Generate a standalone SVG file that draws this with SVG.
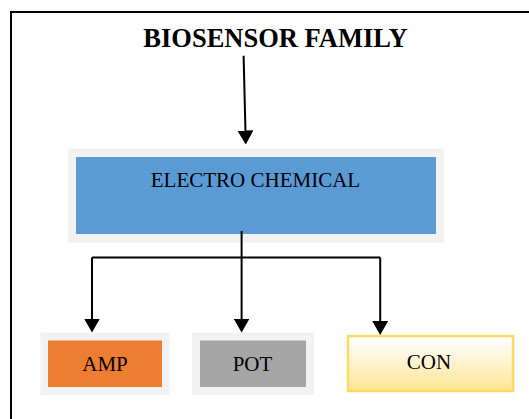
<svg xmlns="http://www.w3.org/2000/svg" width="529" height="419" viewBox="0 0 529 419">
<defs>
<style>
.t{font-family:"Liberation Serif","Times New Roman",serif;fill:#000;text-anchor:middle}
.lbl{font-size:21px}
.ttl{font-size:26.5px;font-weight:bold}
.ln{stroke:#000;stroke-width:2;fill:none}
.pad{fill:#f2f2f2}
</style>
<marker id="ah" markerUnits="userSpaceOnUse" markerWidth="14" markerHeight="16" refX="12" refY="8" orient="auto" viewBox="0 0 14 16">
<path d="M0,0 L14,8 L0,16 Z" fill="#000"/>
</marker>
<linearGradient id="g" x1="0" y1="0" x2="0" y2="1">
<stop offset="0" stop-color="#ffffff"/>
<stop offset="0.3" stop-color="#fff8e6"/>
<stop offset="1" stop-color="#ffe491"/>
</linearGradient>
</defs>
<rect width="529" height="419" fill="#fff"/>
<path d="M11,419 V12 H529" class="ln"/>
<g id="title">
<text class="t ttl" x="275.5" y="46.5">BIOSENSOR FAMILY</text>
</g>
<g id="electro">
<rect class="pad" x="68" y="148.5" width="376" height="94"/>
<rect x="76" y="157" width="360" height="77" fill="#5b9bd5"/>
<text class="t lbl" x="255.5" y="186.5">ELECTRO CHEMICAL</text>
</g>
<g id="amp">
<rect class="pad" x="40.5" y="332.5" width="129" height="62.5"/>
<rect x="48" y="340.5" width="114" height="46.5" fill="#ed7d31"/>
<text class="t lbl" x="105" y="370.5">AMP</text>
</g>
<g id="pot">
<rect class="pad" x="192" y="332.5" width="122" height="62.5"/>
<rect x="200" y="340.5" width="106" height="46.5" fill="#a5a5a5"/>
<text class="t lbl" x="252.5" y="370.5">POT</text>
</g>
<g id="con">
<rect x="348" y="336" width="165" height="55" fill="url(#g)" stroke="#ffd966" stroke-width="2.5"/>
<text class="t lbl" x="429" y="368.5">CON</text>
</g>
<g id="connectors">
<path class="ln" d="M243.6,55.7 L245.75,142.5" marker-end="url(#ah)"/>
<path class="ln" d="M241.6,231 V257.5 M92,257.5 H380.2"/>
<path class="ln" d="M92,257.5 V330.5" marker-end="url(#ah)"/>
<path class="ln" d="M241.6,257.5 V330.5" marker-end="url(#ah)"/>
<path class="ln" d="M380.2,257.5 V333" marker-end="url(#ah)"/>
</g>
</svg>
